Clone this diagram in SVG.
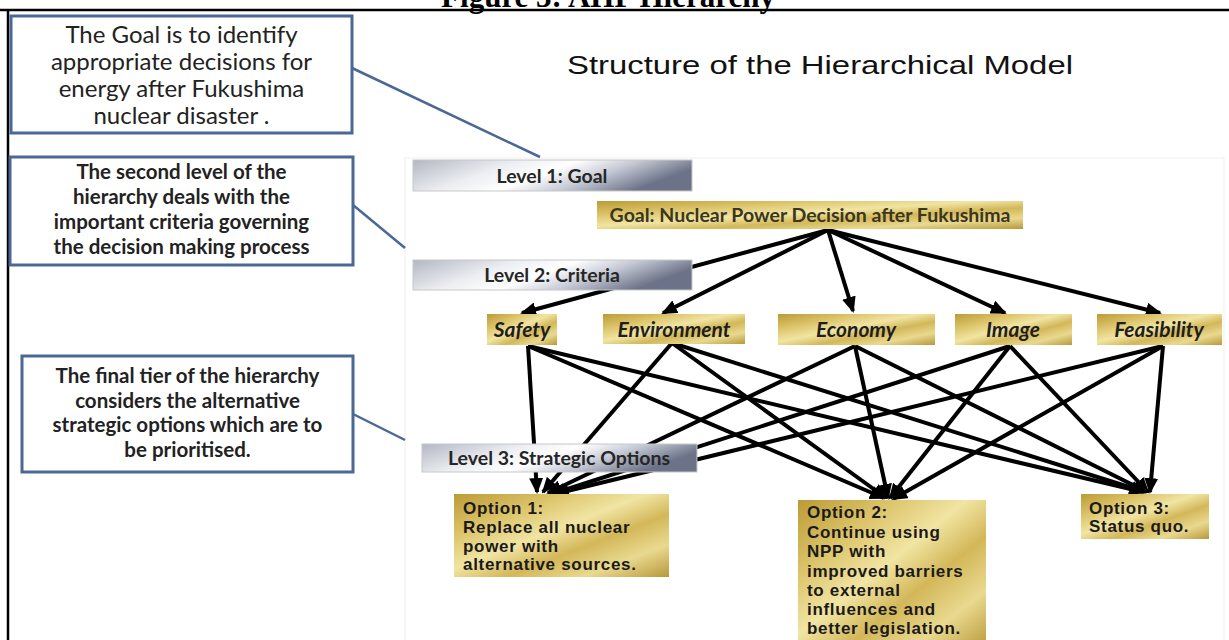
<svg xmlns="http://www.w3.org/2000/svg" width="1229" height="640" viewBox="0 0 1229 640">
<defs>
<linearGradient id="silver" x1="0" y1="0" x2="1" y2="0.3">
<stop offset="0" stop-color="#b3b7c2"/>
<stop offset="0.35" stop-color="#eceef2"/>
<stop offset="0.55" stop-color="#ffffff"/>
<stop offset="0.75" stop-color="#c5c9d4"/>
<stop offset="1" stop-color="#6c7388"/>
</linearGradient>
<linearGradient id="gold" x1="0" y1="0" x2="1" y2="1">
<stop offset="0" stop-color="#bb9b36"/>
<stop offset="0.25" stop-color="#dcc46a"/>
<stop offset="0.45" stop-color="#f1e5a3"/>
<stop offset="0.62" stop-color="#d3b759"/>
<stop offset="0.8" stop-color="#e9d98f"/>
<stop offset="1" stop-color="#b8983a"/>
</linearGradient>
<marker id="ah" viewBox="0 0 16 14" refX="14" refY="7" markerWidth="16" markerHeight="14" orient="auto" markerUnits="userSpaceOnUse">
<path d="M0,0 L16,7 L0,14 z" fill="#000"/>
</marker>
<style>
.frame{stroke:#000;stroke-width:2.5;fill:none}
.call{fill:#fff;stroke:#4a6894;stroke-width:3}
.callt{font-family:Lato,"Open Sans",sans-serif;fill:#222;text-anchor:middle}
.lead{stroke:#4a6894;stroke-width:2.5;fill:none}
.lvl{fill:url(#silver);stroke:#c8c8c8;stroke-width:1}
.lvlt{font-family:Lato,sans-serif;font-weight:bold;font-size:19.5px;fill:#262626;text-anchor:middle}
.gold{fill:url(#gold)}
.goalt{font-family:Lato,sans-serif;font-weight:bold;font-size:19.5px;fill:#3a3620;text-anchor:middle}
.crit{font-family:Lato,sans-serif;font-weight:bold;font-style:italic;font-size:21px;fill:#1e1e1e;text-anchor:middle}
.opt{font-family:"Liberation Sans",Arial,sans-serif;font-weight:bold;font-size:17px;fill:#1a1a1a;letter-spacing:0.7px}
.conn line{stroke:#000;stroke-width:4;marker-end:url(#ah)}
</style>
</defs>
<rect width="1229" height="640" fill="#fff"/>
<text x="608" y="7" font-family="Liberation Serif,serif" font-weight="bold" font-size="31" text-anchor="middle">Figure 3: AHP Hierarchy</text>
<line class="frame" x1="0" y1="10" x2="1229" y2="10"/>
<line class="frame" x1="8" y1="10" x2="8" y2="640"/>
<rect x="405" y="158" width="819" height="490" fill="none" stroke="#efefef" stroke-width="1"/>
<text x="567" y="74" font-family="Liberation Sans,Arial,sans-serif" font-size="26" fill="#111" textLength="506" lengthAdjust="spacingAndGlyphs">Structure of the Hierarchical Model</text>

<g id="callout-goal">
<rect class="call" x="11" y="16" width="341" height="117"/>
<text class="callt" font-size="24"><tspan x="181.5" y="43">The Goal is to identify</tspan><tspan x="181.5" y="70">appropriate decisions for</tspan><tspan x="181.5" y="97">energy after Fukushima</tspan><tspan x="181.5" y="124">nuclear disaster .</tspan></text>
</g>
<g id="callout-criteria">
<rect class="call" x="10" y="157" width="343" height="108"/>
<text class="callt" font-size="20.5" font-weight="bold"><tspan x="181.5" y="179">The second level of the</tspan><tspan x="181.5" y="204">hierarchy deals with the</tspan><tspan x="181.5" y="229">important criteria governing</tspan><tspan x="181.5" y="254">the decision making process</tspan></text>
</g>
<g id="callout-options">
<rect class="call" x="22" y="356" width="331" height="116"/>
<text class="callt" font-size="20.5" font-weight="bold"><tspan x="187.5" y="383">The final tier of the hierarchy</tspan><tspan x="187.5" y="408">considers the alternative</tspan><tspan x="187.5" y="432">strategic options which are to</tspan><tspan x="187.5" y="457">be prioritised.</tspan></text>
</g>
<g id="leaders">
<line class="lead" x1="352" y1="68" x2="540" y2="157"/>
<line class="lead" x1="353" y1="205" x2="405" y2="248"/>
<line class="lead" x1="353" y1="414" x2="405" y2="440"/>
</g>

<g id="connectors" class="conn">
<line x1="828" y1="230" x2="522" y2="313"/>
<line x1="828" y1="230" x2="663" y2="313"/>
<line x1="828" y1="230" x2="853" y2="311"/>
<line x1="828" y1="230" x2="1005" y2="313"/>
<line x1="828" y1="230" x2="1160" y2="313"/>
<line x1="528" y1="346" x2="537" y2="492"/>
<line x1="528" y1="346" x2="884" y2="498"/>
<line x1="528" y1="346" x2="1143" y2="492"/>
<line x1="672" y1="343" x2="543" y2="492"/>
<line x1="672" y1="343" x2="886" y2="498"/>
<line x1="672" y1="343" x2="1145" y2="492"/>
<line x1="855" y1="346" x2="548" y2="493"/>
<line x1="855" y1="346" x2="888" y2="498"/>
<line x1="855" y1="346" x2="1147" y2="492"/>
<line x1="1010" y1="346" x2="552" y2="494"/>
<line x1="1010" y1="346" x2="890" y2="498"/>
<line x1="1010" y1="346" x2="1148" y2="492"/>
<line x1="1163" y1="346" x2="555" y2="494"/>
<line x1="1163" y1="346" x2="893" y2="499"/>
<line x1="1163" y1="346" x2="1150" y2="492"/>
</g>

<g id="level1"><rect class="lvl" x="413" y="160" width="279" height="31"/><text class="lvlt" x="552" y="183">Level 1: Goal</text></g>
<g id="level2"><rect class="lvl" x="413" y="260" width="279" height="30"/><text class="lvlt" x="552" y="282">Level 2: Criteria</text></g>
<g id="level3"><rect class="lvl" x="422" y="444" width="275" height="28"/><text class="lvlt" x="559" y="465">Level 3: Strategic Options</text></g>

<g id="goal"><rect class="gold" x="597" y="201" width="426" height="28"/><text class="goalt" x="810" y="222">Goal: Nuclear Power Decision after Fukushima</text></g>

<g id="safety"><rect class="gold" x="487" y="314" width="70" height="31"/><text class="crit" x="522" y="337">Safety</text></g>
<g id="environment"><rect class="gold" x="603" y="314" width="142" height="30"/><text class="crit" x="674" y="337">Environment</text></g>
<g id="economy"><rect class="gold" x="778" y="314" width="157" height="31"/><text class="crit" x="856" y="337">Economy</text></g>
<g id="image"><rect class="gold" x="955" y="314" width="117" height="31"/><text class="crit" x="1013" y="337">Image</text></g>
<g id="feasibility"><rect class="gold" x="1097" y="314" width="125" height="31"/><text class="crit" x="1159" y="337">Feasibility</text></g>

<g id="option1"><rect class="gold" x="454" y="494" width="215" height="83"/><text class="opt"><tspan x="463" y="514">Option 1:</tspan><tspan x="463" y="533">Replace all nuclear</tspan><tspan x="463" y="552">power with</tspan><tspan x="463" y="570">alternative sources.</tspan></text></g>
<g id="option2"><rect class="gold" x="798" y="500" width="188" height="150"/><text class="opt"><tspan x="807" y="518">Option 2:</tspan><tspan x="807" y="538">Continue using</tspan><tspan x="807" y="557">NPP with</tspan><tspan x="807" y="577">improved barriers</tspan><tspan x="807" y="596">to external</tspan><tspan x="807" y="615">influences and</tspan><tspan x="807" y="634">better legislation.</tspan></text></g>
<g id="option3"><rect class="gold" x="1081" y="494" width="128" height="45"/><text class="opt"><tspan x="1089" y="514">Option 3:</tspan><tspan x="1089" y="532">Status quo.</tspan></text></g>
</svg>
